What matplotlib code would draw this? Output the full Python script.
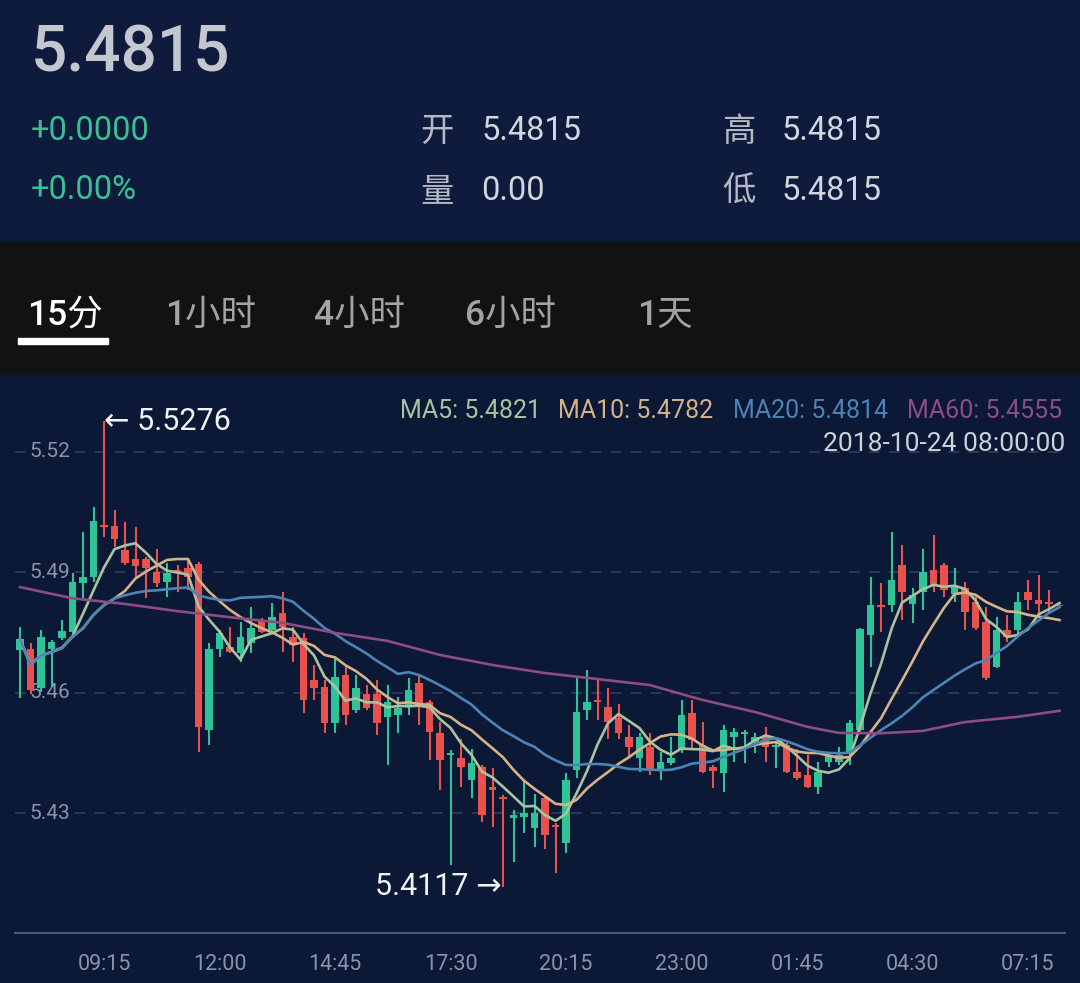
import numpy as np
import pandas as pd
import matplotlib
matplotlib.use("Agg")
import matplotlib.pyplot as plt
from matplotlib.patches import Rectangle
from matplotlib.transforms import blended_transform_factory

# --- données (bougies 15 min, 07:15 -> 08:00 le lendemain) ---
opens = [5.4706, 5.4710, 5.4611, 5.4708, 5.4735, 5.4752, 5.4874, 5.4889, 5.5017, 5.5015,
         5.4955, 5.4934, 5.4934, 5.4901, 5.4876, 5.4905, 5.4910, 5.4920, 5.4507, 5.4710,
         5.4715, 5.4700, 5.4723, 5.4779, 5.4756, 5.4798, 5.4739, 5.4735, 5.4632, 5.4615,
         5.4524, 5.4644, 5.4557, 5.4597, 5.4598, 5.4540, 5.4544, 5.4565, 5.4623, 5.4578,
         5.4499, 5.4444, 5.4437, 5.4383, 5.4416, 5.4366, 5.4341, 5.4287, 5.4291, 5.4262,
         5.4337, 5.4271, 5.4225, 5.4407, 5.4557, 5.4582, 5.4565, 5.4536, 5.4490, 5.4437,
         5.4466, 5.4407, 5.4424, 5.4457, 5.4549, 5.4470, 5.4416, 5.4399, 5.4489, 5.4497,
         5.4474, 5.4490, 5.4464, 5.4470, 5.4403, 5.4395, 5.4366, 5.4428, 5.4428, 5.4453,
         5.4507, 5.4744, 5.4818, 5.4818, 5.4918, 5.4822, 5.4851, 5.4905, 5.4918, 5.4847,
         5.4860, 5.4827, 5.4777, 5.4665, 5.4756, 5.4756, 5.4851, 5.4831, 5.4827, 5.4815]
highs = [5.4764, 5.4724, 5.4756, 5.4731, 5.4781, 5.4897, 5.5001, 5.5063, 5.5276, 5.5055,
         5.5026, 5.5013, 5.4939, 5.4959, 5.4922, 5.4918, 5.4930, 5.4926, 5.4723, 5.4756,
         5.4764, 5.4777, 5.4814, 5.4785, 5.4824, 5.4851, 5.4764, 5.4748, 5.4669, 5.4632,
         5.4685, 5.4669, 5.4644, 5.4619, 5.4632, 5.4619, 5.4590, 5.4636, 5.4644, 5.4582,
         5.4528, 5.4457, 5.4486, 5.4461, 5.4420, 5.4412, 5.4345, 5.4308, 5.4383, 5.4349,
         5.4341, 5.4275, 5.4399, 5.4640, 5.4656, 5.4632, 5.4611, 5.4573, 5.4520, 5.4499,
         5.4499, 5.4453, 5.4490, 5.4582, 5.4582, 5.4528, 5.4420, 5.4520, 5.4511, 5.4507,
         5.4499, 5.4515, 5.4474, 5.4474, 5.4461, 5.4445, 5.4428, 5.4453, 5.4466, 5.4532,
         5.4760, 5.4889, 5.4872, 5.5001, 5.4968, 5.4860, 5.4959, 5.4993, 5.4922, 5.4910,
         5.4876, 5.4847, 5.4814, 5.4789, 5.4793, 5.4851, 5.4880, 5.4893, 5.4856, 5.4815]
lows = [5.4586, 5.4598, 5.4602, 5.4615, 5.4731, 5.4748, 5.4831, 5.4876, 5.4988, 5.4963,
        5.4918, 5.4889, 5.4835, 5.4864, 5.4839, 5.4851, 5.4856, 5.4453, 5.4470, 5.4690,
        5.4700, 5.4677, 5.4698, 5.4748, 5.4752, 5.4702, 5.4677, 5.4549, 5.4582, 5.4499,
        5.4500, 5.4520, 5.4549, 5.4557, 5.4495, 5.4420, 5.4499, 5.4544, 5.4520, 5.4432,
        5.4358, 5.4171, 5.4366, 5.4337, 5.4279, 5.4266, 5.4117, 5.4179, 5.4250, 5.4217,
        5.4212, 5.4150, 5.4200, 5.4387, 5.4532, 5.4532, 5.4486, 5.4486, 5.4441, 5.4403,
        5.4395, 5.4383, 5.4420, 5.4449, 5.4457, 5.4399, 5.4362, 5.4354, 5.4428, 5.4424,
        5.4449, 5.4428, 5.4412, 5.4399, 5.4383, 5.4362, 5.4349, 5.4416, 5.4420, 5.4420,
        5.4503, 5.4665, 5.4752, 5.4802, 5.4781, 5.4773, 5.4806, 5.4851, 5.4839, 5.4827,
        5.4756, 5.4756, 5.4632, 5.4661, 5.4727, 5.4744, 5.4806, 5.4789, 5.4798, 5.4815]
closes = [5.4733, 5.4607, 5.4738, 5.4727, 5.4754, 5.4876, 5.4889, 5.5028, 5.5012, 5.4982,
          5.4922, 5.4916, 5.4910, 5.4874, 5.4897, 5.4899, 5.4889, 5.4515, 5.4710, 5.4748,
          5.4702, 5.4738, 5.4760, 5.4752, 5.4789, 5.4764, 5.4719, 5.4582, 5.4611, 5.4524,
          5.4640, 5.4544, 5.4611, 5.4561, 5.4524, 5.4578, 5.4561, 5.4607, 5.4569, 5.4503,
          5.4432, 5.4451, 5.4416, 5.4424, 5.4295, 5.4359, 5.4336, 5.4295, 5.4300, 5.4300,
          5.4246, 5.4265, 5.4383, 5.4553, 5.4578, 5.4577, 5.4528, 5.4499, 5.4466, 5.4490,
          5.4407, 5.4428, 5.4437, 5.4544, 5.4482, 5.4403, 5.4406, 5.4507, 5.4503, 5.4503,
          5.4490, 5.4466, 5.4470, 5.4403, 5.4387, 5.4366, 5.4403, 5.4445, 5.4445, 5.4524,
          5.4758, 5.4818, 5.4814, 5.4880, 5.4851, 5.4843, 5.4901, 5.4868, 5.4856, 5.4864,
          5.4802, 5.4760, 5.4636, 5.4756, 5.4739, 5.4827, 5.4831, 5.4822, 5.4821, 5.4815]

# MA60 (l'historique avant la fenêtre n'est pas visible)
ma60_idx = [0, 5, 10, 15, 20, 25, 30, 35, 40, 45, 50, 55, 60, 65, 70, 75, 78, 82, 86, 90, 95, 99]
ma60_val = [5.4863, 5.4835, 5.4821, 5.4803, 5.4788, 5.4774, 5.4749, 5.4729, 5.4694, 5.4669,
            5.4649, 5.4634, 5.4619, 5.4582, 5.4552, 5.4515, 5.4500, 5.4499, 5.4505, 5.4527,
            5.4540, 5.4555]

time_idx = [8, 19, 30, 41, 52, 63, 74, 85, 96]
time_labels = ["09:15", "12:00", "14:45", "17:30", "20:15", "23:00", "01:45", "04:30", "07:15"]
y_ticks = [5.52, 5.49, 5.46, 5.43]

ma_names = ["MA5", "MA10", "MA20", "MA60"]
ma_last = [5.4821, 5.4782, 5.4814, 5.4555]
last_time = "2018-10-24 08:00:00"

tabs = ["15分", "1小时", "4小时", "6小时", "1天"]
tab_x = [27, 165, 314, 465, 637]

# --- couleurs ---
BG_TOP = "#0e1b3d"
BG_CHART = "#0b1836"
BAND = "#121212"
UP = "#2fc497"
DOWN = "#e9524c"
MA_COLORS = ["#a9c3a0", "#d5b389", "#4d84b3", "#8d4d84"]
GRID = "#33425f"

plt.rcParams["font.family"] = ["Roboto", "Noto Sans CJK SC", "DejaVu Sans"]

W, H = 1080, 983
fig = plt.figure(figsize=(W / 100, H / 100), dpi=100)
fig.patch.set_facecolor(BG_TOP)


def ftxt(x, y, s, **kw):
    return fig.text(x / W, 1 - y / H, s, **kw)


fig.patches.append(Rectangle((0, 1 - 375 / H), 1, 133 / H, transform=fig.transFigure,
                             color=BAND, zorder=-5))
fig.patches.append(Rectangle((0, 0), 1, 1 - 375 / H, transform=fig.transFigure,
                             color=BG_CHART, zorder=-5))

# --- en-tête ---
o, h, l, c = opens[-1], highs[-1], lows[-1], closes[-1]
chg = c - opens[-1]
ftxt(31, 72, f"{c:.4f}", fontsize=46, color="#c4c7cf", va="baseline", fontweight="medium")
ftxt(31, 140, f"{chg:+.4f}", fontsize=23.5, color="#3dbf95", va="baseline")
ftxt(31, 199, f"{chg / o * 100:+.2f}%", fontsize=23.5, color="#3dbf95", va="baseline")

ftxt(420, 141, "开", fontsize=24, color="#b5b9c3", va="baseline")
ftxt(481, 140, f"{o:.4f}", fontsize=23.5, color="#d2d6de", va="baseline")
ftxt(722, 141, "高", fontsize=24, color="#b5b9c3", va="baseline")
ftxt(781, 140, f"{h:.4f}", fontsize=23.5, color="#d2d6de", va="baseline")
ftxt(420, 201, "量", fontsize=24, color="#b5b9c3", va="baseline")
ftxt(481, 200, "0.00", fontsize=23.5, color="#d2d6de", va="baseline")
ftxt(722, 201, "低", fontsize=24, color="#b5b9c3", va="baseline")
ftxt(781, 200, f"{l:.4f}", fontsize=23.5, color="#d2d6de", va="baseline")

for i, (t, x) in enumerate(zip(tabs, tab_x)):
    ftxt(x, 325, t, fontsize=25.5, fontweight="medium",
         color="#ffffff" if i == 0 else "#a3a3a3", va="baseline")
fig.patches.append(Rectangle((18 / W, 1 - 344 / H), 90 / W, 6 / H, transform=fig.transFigure,
                             color="#ffffff", zorder=2))

# --- graphique ---
px_per_unit = 4017.0
y_top_px, y_bot_px = 380, 933
ymax = 5.52 + (451.7 - y_top_px) / px_per_unit
ymin = 5.52 - (y_bot_px - 451.7) / px_per_unit
ax = fig.add_axes([15 / W, 1 - y_bot_px / H, 1050 / W, (y_bot_px - y_top_px) / H])
ax.set_facecolor("none")
ax.set_xlim((15 - 20) / 10.5, (1065 - 20) / 10.5)
ax.set_ylim(ymin, ymax)

df = pd.DataFrame({"open": opens, "high": highs, "low": lows, "close": closes})
x = np.arange(len(df))
up = df["close"] > df["open"]
colors = np.where(up, UP, DOWN)

for v in y_ticks:
    ax.axhline(v, color=GRID, lw=1.1, dashes=(7, 6), zorder=1)

ax.vlines(x, df["low"], df["high"], colors=colors, lw=1.5, zorder=3)
body = (df["close"] - df["open"]).abs().clip(lower=0.0004)
ax.bar(x, body, bottom=df[["open", "close"]].min(axis=1), width=0.74,
       color=colors, zorder=3)

for n, col in zip([5, 10, 20], MA_COLORS[:3]):
    ma = df["close"].rolling(n, min_periods=1).mean()
    ax.plot(x, ma, color=col, lw=1.9, zorder=4)
ax.plot(ma60_idx, ma60_val, color=MA_COLORS[3], lw=1.9, zorder=4)

for s in ["top", "left", "right"]:
    ax.spines[s].set_visible(False)
ax.spines["bottom"].set_color("#4b5a79")
ax.spines["bottom"].set_linewidth(1.5)
ax.set_xticks([])
ax.set_yticks([])

# étiquettes de prix
ty = blended_transform_factory(fig.transFigure, ax.transData)
for v in y_ticks:
    ax.text(29 / W, v, f"{v:.2f}", transform=ty, fontsize=15, color="#8a93a7",
            va="center", ha="left", zorder=2,
            bbox=dict(facecolor=BG_CHART, edgecolor="none", pad=2))

# axe des temps
tx = blended_transform_factory(ax.transData, fig.transFigure)
for i, lab in zip(time_idx, time_labels):
    ax.text(i, 1 - 970 / H, lab, transform=tx, fontsize=15.5, color="#8a93a7",
            ha="center", va="baseline")

# plus haut / plus bas
imax = int(df["high"].idxmax())
imin = int(df["low"].idxmin())
ax.text(imax, df["high"][imax], f"\u2190 {df['high'][imax]:.4f}", fontsize=22,
        color="#f0f2f5", ha="left", va="center", zorder=5,
        family=["Roboto", "DejaVu Sans"])
ax.text(imin - 0.1, df["low"][imin], f"{df['low'][imin]:.4f} \u2192", fontsize=22,
        color="#f0f2f5", ha="right", va="center", zorder=5,
        family=["Roboto", "DejaVu Sans"])

# légende des moyennes mobiles
ma_x = [400, 558, 733, 907]
for name, val, col, xx in zip(ma_names, ma_last, MA_COLORS, ma_x):
    ftxt(xx, 418, f"{name}: {val:.4f}", fontsize=18, color=col, va="baseline")
ftxt(1065, 451, last_time, fontsize=19, color="#cdd1da", ha="right", va="baseline")

fig.savefig("out.png", dpi=100, facecolor=fig.get_facecolor())
